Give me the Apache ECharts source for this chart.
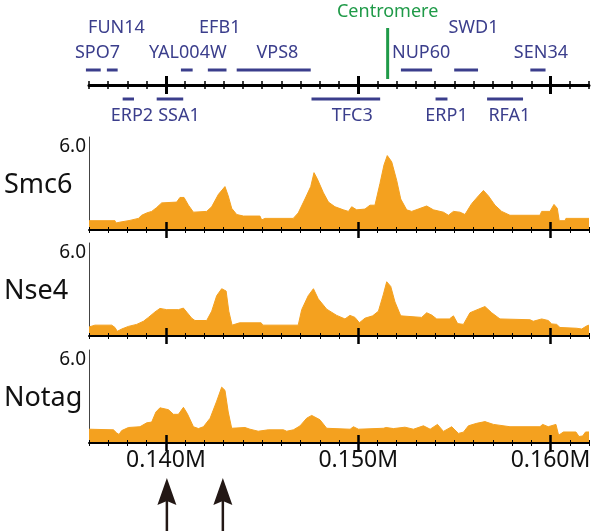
<!DOCTYPE html>
<html><head><meta charset="utf-8">
<script src="https://cdn.jsdelivr.net/npm/echarts@6/dist/echarts.min.js"></script>
<style>html,body{margin:0;padding:0;background:#fff}#c{width:594px;height:531px}</style>
</head><body><div id="c"></div>
<script>
// ---------- data (positions in kb) ----------
const xMin = 136, xMax = 162;
const majorTicks = [140, 150, 160];
const tickLabels = ['0.140M', '0.150M', '0.160M'];
const yMax = 6;
const yMaxLabel = '6.0';
const trackNames = ['Smc6', 'Nse4', 'Notag'];

const smc6Pos = [136.00,137.35,137.40,137.58,137.61,138.13,138.22,138.57,138.74,139.00,139.26,139.52,139.78,140.56,140.73,140.94,141.17,141.43,142.12,142.38,142.73,143.07,143.24,143.42,143.68,144.03,144.89,144.98,145.15,146.62,146.88,147.23,147.53,147.70,147.87,148.19,148.45,148.79,149.23,149.49,149.66,149.92,150.35,150.61,150.87,151.13,151.34,151.51,151.74,152.00,152.21,152.52,152.78,153.12,153.56,153.91,154.43,154.69,154.95,155.29,155.55,155.90,156.25,156.51,156.77,157.11,157.46,157.89,159.45,159.54,159.97,160.18,160.35,160.45,160.75,160.80,162.00];
const smc6Val = [0.6,0.6,0.45,0.5,0.6,0.62,0.72,0.75,0.95,1.1,1.2,1.45,1.75,1.8,2.1,2.1,1.6,1.15,1.2,1.5,2.3,2.8,2.2,1.4,1.0,0.9,0.9,0.65,0.75,0.75,1.1,2.0,2.8,3.7,3.3,2.4,1.8,1.5,1.3,1.2,1.5,1.3,1.35,1.6,1.6,3.0,4.2,4.8,4.4,3.2,2.0,1.3,1.2,1.35,1.55,1.3,1.15,0.95,1.2,1.15,1.0,1.7,2.2,2.55,2.2,1.6,1.2,0.95,0.95,1.2,1.2,1.65,1.4,0.6,0.6,0.75,0.75];

const nse4Pos = [136.00,136.31,137.18,137.35,137.47,137.70,138.05,138.48,138.83,139.09,139.43,139.69,140.04,140.65,140.91,141.11,141.34,141.51,142.12,142.38,142.64,142.90,143.13,143.27,143.44,143.83,144.95,145.04,146.88,147.06,147.40,147.67,147.92,148.36,148.88,149.31,149.57,149.83,150.06,150.35,150.75,151.05,151.31,151.48,151.69,151.91,152.21,153.30,153.56,153.82,154.08,154.74,154.95,155.17,155.47,155.81,156.25,156.59,156.94,157.37,158.93,159.10,159.54,159.88,160.06,160.32,160.49,161.36,161.62,161.88,162.00];
const nse4Val = [0.58,0.7,0.7,0.55,0.3,0.45,0.62,0.75,0.95,1.2,1.55,1.78,1.7,1.7,1.8,1.5,1.15,1.0,1.0,1.6,2.6,3.05,2.9,1.6,0.7,0.85,0.85,0.7,0.7,1.7,2.6,3.05,2.4,1.73,1.33,1.1,1.33,1.2,0.85,1.15,1.3,1.6,2.7,3.5,3.2,2.2,1.3,1.2,1.5,1.35,1.1,1.1,1.3,0.8,0.75,1.5,1.73,1.9,1.5,1.1,1.05,0.95,1.1,1.0,0.78,0.75,0.55,0.5,0.45,0.65,0.7];

const notagPos = [136.00,137.27,137.44,137.56,137.70,138.05,138.65,139.00,139.26,139.48,139.69,140.13,140.39,140.65,140.91,141.11,141.43,141.69,141.95,142.30,142.64,142.90,143.07,143.24,143.42,144.11,144.37,144.80,145.32,146.11,146.28,146.63,146.97,147.32,147.58,148.01,148.36,149.58,149.75,150.01,151.31,151.45,151.83,152.43,152.87,153.39,153.74,154.12,154.43,154.86,155.21,155.47,155.73,156.16,156.59,157.03,157.89,159.45,159.59,159.88,160.28,160.42,160.67,161.32,161.48,161.67,161.82,162.00];
const notagVal = [0.89,0.85,0.65,0.55,0.8,1.0,1.05,1.3,1.35,2.0,2.27,2.15,1.85,1.85,2.3,1.9,1.05,0.93,1.05,1.6,2.7,3.6,3.4,2.0,0.95,1.0,0.89,0.76,0.85,0.85,0.76,0.85,1.1,1.6,1.78,1.5,0.95,0.89,1.05,0.89,0.95,1.0,0.93,1.02,0.89,1.11,0.89,1.2,0.75,1.05,0.62,0.7,1.11,1.27,1.38,1.2,1.05,1.05,1.2,1.05,1.2,0.5,0.71,0.71,0.42,0.45,0.71,0.71];

const geneNames  = ['SPO7','FUN14','YAL004W','EFB1','VPS8','NUP60','SWD1','SEN34','ERP2','SSA1','TFC3','ERP1','RFA1'];
const geneStart  = [135.84,136.93,140.78,142.18,143.68,152.22,154.99,158.95,137.75,139.52,147.57,154.02,156.70];
const geneEnd    = [136.61,137.49,141.39,143.15,147.53,153.84,156.23,159.74,138.34,140.90,151.14,154.64,158.57];
const geneSide   = [1,1,1,1,1,1,1,1,-1,-1,-1,-1,-1];
const geneLabelPos = [136.44,137.43,141.14,142.80,145.80,153.27,155.99,159.50,138.23,140.68,149.69,154.59,157.86];
const geneLabelRow = [1,2,1,2,1,1,2,1,0,0,0,0,0];
const centromerePos = 151.53;
const centromereLabel = 'Centromere';
const arrowPos = [140.05, 142.96];

// ---------- styling ----------
const FONT = 'Noto Sans';
const ORANGE = '#f4a11f';
const GENE_C = '#3b3e8c';
const GREEN = '#1f9a48';
const GL = 89, GR = 5;
const panelTops = [137, 243, 350];
const panelH = 93;

const grids = [], xAxes = [], yAxes = [], series = [], titles = [];

function addXAxes(gi, cfg) {
  const base = {type: 'value', gridIndex: gi, min: xMin, max: xMax, position: 'bottom',
    splitLine: {show: false}, axisLabel: {show: false}, z: 5};
  const iMain = xAxes.length;
  xAxes.push(Object.assign({}, base, {interval: 1,
    axisLine: {show: true, onZero: false, lineStyle: {color: '#000', width: cfg.lineW}},
    axisTick: {show: true, inside: false, length: cfg.minorLen, lineStyle: {color: '#000', width: cfg.minorW}}}));
  xAxes.push(Object.assign({}, base, {interval: 1,
    axisLine: {show: false, onZero: false},
    axisTick: {show: true, inside: true, length: cfg.minorLen, lineStyle: {color: '#000', width: cfg.minorW}}}));
  xAxes.push(Object.assign({}, base, {
    axisLine: {show: false, onZero: false},
    axisTick: {show: true, inside: false, length: cfg.majorLen, customValues: majorTicks, lineStyle: {color: '#000', width: cfg.majorW}},
    axisLabel: cfg.labels ? {show: true, customValues: majorTicks,
      formatter: v => { const i = majorTicks.indexOf(v); return i >= 0 ? tickLabels[i] : ''; },
      fontSize: 23, fontFamily: FONT, color: '#111', margin: 6} : {show: false}}));
  xAxes.push(Object.assign({}, base, {
    axisLine: {show: false, onZero: false},
    axisTick: {show: true, inside: true, length: cfg.majorLen, customValues: majorTicks, lineStyle: {color: '#000', width: cfg.majorW}}}));
  return iMain;
}

// gene track grid (index 0)
grids.push({left: GL, right: GR, top: 70, height: 15});
const geneX = addXAxes(0, {lineW: 3, minorLen: 4, minorW: 1.5, majorLen: 9, majorW: 3, labels: false});
yAxes.push({type: 'value', gridIndex: 0, min: 0, max: 1, show: false});
series.push({
  type: 'custom', coordinateSystem: 'cartesian2d', xAxisIndex: geneX, yAxisIndex: 0, clip: false, silent: true, z: 10,
  data: geneNames.map((n, i) => [geneStart[i], geneEnd[i], geneSide[i], geneLabelPos[i], geneLabelRow[i], i]),
  encode: {x: [0, 1], y: 4},
  renderItem(params, api) {
    const p0 = api.coord([api.value(0), 0]);
    const p1 = api.coord([api.value(1), 0]);
    const ax = p0[1];
    const side = api.value(2);
    const by = side > 0 ? ax - 15 : ax + 14;
    const lx = api.coord([api.value(3), 0])[0];
    const row = api.value(4);
    const ly = row === 2 ? ax - 57 : (row === 1 ? ax - 32 : ax + 31);
    return {type: 'group', children: [
      {type: 'rect', shape: {x: p0[0], y: by - 1.5, width: p1[0] - p0[0], height: 3}, style: {fill: GENE_C}},
      {type: 'text', style: {text: geneNames[api.value(5)], x: lx, y: ly, align: 'center', verticalAlign: 'middle',
        fontSize: 18, fontFamily: FONT, fill: GENE_C}}
    ]};
  }
});
series.push({
  type: 'custom', coordinateSystem: 'cartesian2d', xAxisIndex: geneX, yAxisIndex: 0, clip: false, silent: true, z: 10,
  data: [[centromerePos, 0]],
  renderItem(params, api) {
    const p = api.coord([api.value(0), 0]);
    return {type: 'group', children: [
      {type: 'line', shape: {x1: p[0], y1: p[1] - 57, x2: p[0], y2: p[1] - 6}, style: {stroke: GREEN, lineWidth: 3}},
      {type: 'text', style: {text: centromereLabel, x: p[0], y: p[1] - 73, align: 'center', verticalAlign: 'middle',
        fontSize: 18, fontFamily: FONT, fill: GREEN}}
    ]};
  }
});

// panels
const tracks = [[smc6Pos, smc6Val], [nse4Pos, nse4Val], [notagPos, notagVal]];
tracks.forEach((tr, k) => {
  const gi = grids.length;
  grids.push({left: GL, right: GR, top: panelTops[k], height: panelH});
  const xi = addXAxes(gi, {lineW: 2, minorLen: 3, minorW: 1, majorLen: 8, majorW: 2.5, labels: k === 2});
  const yi = yAxes.length;
  yAxes.push({type: 'value', gridIndex: gi, min: 0, max: yMax,
    axisLine: {show: true, lineStyle: {color: '#444', width: 1}},
    axisTick: {show: false}, splitLine: {show: false},
    axisLabel: {show: true, customValues: [yMax], formatter: () => yMaxLabel, fontSize: 19, fontFamily: FONT,
      color: '#111', margin: 3, verticalAlign: 'top'}});
  const n = Math.min(tr[0].length, tr[1].length);
  const data = [];
  for (let i = 0; i < n; i++) data.push([tr[0][i], tr[1][i]]);
  series.push({type: 'line', xAxisIndex: xi, yAxisIndex: yi, data: data, showSymbol: false, symbol: 'none',
    silent: true, z: 2, lineStyle: {color: ORANGE, width: 1}, areaStyle: {color: ORANGE, opacity: 1}});
  titles.push({text: trackNames[k], left: 4, top: panelTops[k] + 35, padding: 0,
    textStyle: {fontSize: 27, fontFamily: FONT, fontWeight: 'normal', color: '#111'}});
});

// arrows grid
const ag = grids.length;
grids.push({left: GL, right: GR, top: 478, height: 53});
const ax = xAxes.length;
xAxes.push({type: 'value', gridIndex: ag, min: xMin, max: xMax, show: false});
const ay = yAxes.length;
yAxes.push({type: 'value', gridIndex: ag, min: 0, max: 1, show: false});
series.push({
  type: 'custom', coordinateSystem: 'cartesian2d', xAxisIndex: ax, yAxisIndex: ay, clip: false, silent: true,
  data: arrowPos.map(p => [p, 1]),
  renderItem(params, api) {
    const tip = api.coord([api.value(0), 1]);
    const bot = api.coord([api.value(0), 0]);
    const x = tip[0], t = tip[1];
    return {type: 'group', children: [
      {type: 'line', shape: {x1: x, y1: t + 20, x2: x, y2: bot[1]}, style: {stroke: '#231815', lineWidth: 2.5}},
      {type: 'polygon', shape: {points: [[x, t], [x + 9.5, t + 27], [x, t + 23], [x - 9.5, t + 27]]}, style: {fill: '#231815'}}
    ]};
  }
});

const chart = echarts.init(document.getElementById('c'));
chart.setOption({
  animation: false,
  backgroundColor: '#fff',
  title: titles,
  grid: grids,
  xAxis: xAxes,
  yAxis: yAxes,
  series: series
});
</script>
</body></html>
